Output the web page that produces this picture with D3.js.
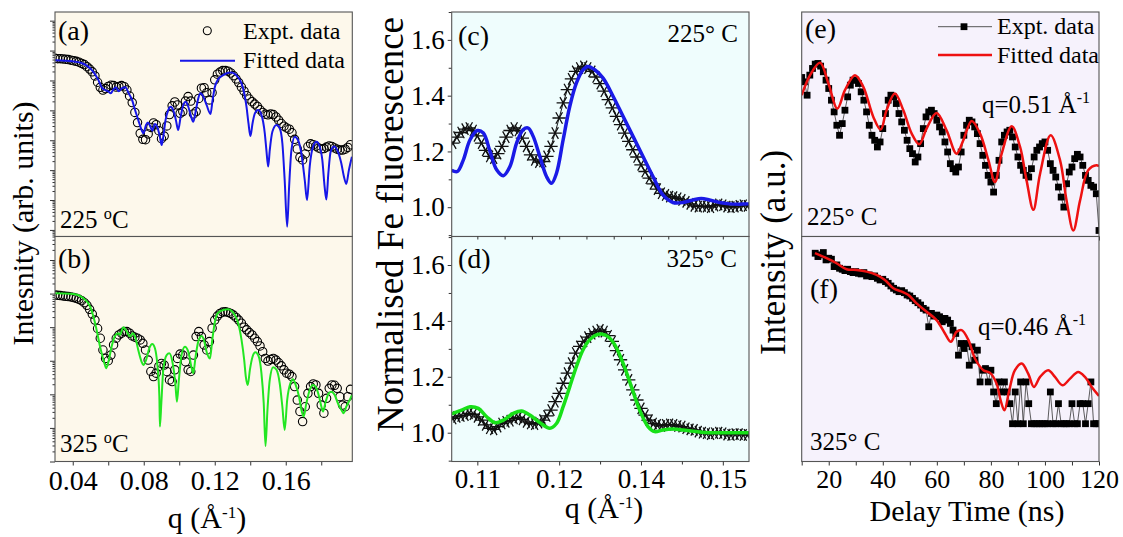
<!DOCTYPE html>
<html>
<head>
<meta charset="utf-8">
<script src="https://cdn.jsdelivr.net/npm/d3@7"></script>
<style>
  body { margin: 0; background: #fff; }
  text { font-family: "Liberation Serif", "Times New Roman", serif; fill: #000; }
</style>
</head>
<body>
<script>
// ---- data: reflectivity (a, b), log10 intensity in arb. units ----
const qSaxs = [0.0300,0.0315,0.0330,0.0345,0.0360,0.0375,0.0390,0.0405,0.0420,0.0435,0.0450,0.0465,0.0480,0.0495,0.0510,0.0525,0.0540,0.0555,0.0570,0.0585,0.0600,0.0615,0.0630,0.0645,0.0660,0.0675,0.0690,0.0705,0.0720,0.0735,0.0750,0.0765,0.0780,0.0795,0.0810,0.0825,0.0840,0.0855,0.0870,0.0885,0.0900,0.0915,0.0930,0.0945,0.0960,0.0975,0.0990,0.1005,0.1020,0.1035,0.1050,0.1065,0.1080,0.1095,0.1110,0.1125,0.1140,0.1155,0.1170,0.1185,0.1200,0.1215,0.1230,0.1245,0.1260,0.1275,0.1290,0.1305,0.1320,0.1335,0.1350,0.1365,0.1380,0.1395,0.1410,0.1425,0.1440,0.1455,0.1470,0.1485,0.1500,0.1515,0.1530,0.1545,0.1560,0.1575,0.1590,0.1605,0.1620,0.1635,0.1650,0.1665,0.1680,0.1695,0.1710,0.1725,0.1740,0.1755,0.1770,0.1785,0.1800,0.1815,0.1830,0.1845,0.1860,0.1875,0.1890,0.1905,0.1920,0.1935,0.1950,0.1965];
const aExpt = [-1.26,-1.27,-1.27,-1.28,-1.29,-1.30,-1.32,-1.34,-1.36,-1.39,-1.43,-1.47,-1.54,-1.62,-1.71,-1.85,-2.06,-2.23,-2.32,-2.27,-2.20,-2.16,-2.17,-2.22,-2.20,-2.17,-2.21,-2.32,-2.52,-2.74,-3.07,-3.41,-3.77,-3.97,-3.98,-3.79,-3.57,-3.42,-3.48,-3.68,-3.95,-3.86,-3.52,-3.14,-2.85,-2.72,-2.82,-3.10,-3.04,-2.69,-2.54,-2.69,-3.12,-3.04,-2.60,-2.26,-2.24,-2.41,-2.65,-2.41,-1.98,-1.79,-1.72,-1.67,-1.67,-1.69,-1.75,-1.84,-1.95,-2.07,-2.22,-2.36,-2.51,-2.62,-2.71,-2.79,-2.87,-2.98,-3.07,-3.13,-3.15,-3.12,-3.14,-3.22,-3.33,-3.44,-3.53,-3.59,-3.63,-3.75,-3.97,-4.29,-4.57,-4.66,-4.46,-4.21,-4.12,-4.15,-4.20,-4.26,-4.29,-4.28,-4.23,-4.19,-4.21,-4.26,-4.30,-4.33,-4.33,-4.30,-4.24,-4.15];
const bExpt = [-1.04,-1.05,-1.06,-1.07,-1.08,-1.09,-1.10,-1.12,-1.14,-1.17,-1.21,-1.27,-1.35,-1.47,-1.61,-1.79,-2.04,-2.33,-2.68,-2.93,-3.00,-2.83,-2.53,-2.33,-2.23,-2.18,-2.13,-2.13,-2.18,-2.26,-2.30,-2.33,-2.38,-2.48,-2.68,-2.98,-3.32,-3.47,-3.37,-3.17,-3.08,-3.13,-3.32,-3.57,-3.62,-3.27,-2.93,-2.80,-2.83,-3.03,-3.27,-3.32,-2.83,-2.28,-2.13,-2.28,-2.53,-2.68,-2.43,-2.03,-1.79,-1.67,-1.59,-1.55,-1.54,-1.56,-1.59,-1.64,-1.71,-1.79,-1.88,-2.00,-2.08,-2.16,-2.23,-2.33,-2.43,-2.56,-2.73,-2.93,-3.01,-2.96,-2.93,-2.98,-3.06,-3.15,-3.27,-3.37,-3.40,-3.47,-3.77,-4.17,-4.51,-4.81,-4.37,-3.97,-3.77,-3.69,-3.72,-3.97,-4.32,-4.56,-4.12,-3.82,-3.72,-3.73,-3.82,-4.07,-4.32,-4.37,-4.07,-3.85];
const aFitQ = [0.0297,0.0366,0.0441,0.0483,0.0516,0.0544,0.0563,0.0582,0.0601,0.0614,0.0629,0.0644,0.0659,0.0678,0.0696,0.0715,0.0734,0.0751,0.0769,0.0788,0.0798,0.0813,0.0824,0.0839,0.0848,0.0863,0.0876,0.0891,0.0901,0.0910,0.0923,0.0938,0.0951,0.0966,0.0981,0.0994,0.1008,0.1023,0.1036,0.1051,0.1064,0.1079,0.1094,0.1107,0.1120,0.1135,0.1154,0.1176,0.1188,0.1201,0.1219,0.1248,0.1276,0.1294,0.1313,0.1332,0.1351,0.1366,0.1379,0.1390,0.1401,0.1413,0.1426,0.1444,0.1463,0.1482,0.1491,0.1501,0.1510,0.1525,0.1548,0.1566,0.1581,0.1594,0.1608,0.1619,0.1632,0.1651,0.1669,0.1688,0.1707,0.1720,0.1735,0.1754,0.1773,0.1791,0.1806,0.1819,0.1829,0.1840,0.1853,0.1872,0.1894,0.1913,0.1928,0.1941,0.1956,0.1973];
const aFit = [-1.32,-1.34,-1.40,-1.52,-1.71,-1.98,-2.23,-2.32,-2.37,-2.43,-2.30,-2.23,-2.36,-2.26,-2.23,-2.43,-2.65,-2.99,-3.32,-3.66,-3.77,-3.49,-3.41,-3.57,-3.68,-3.46,-3.55,-3.88,-4.16,-3.88,-3.32,-2.99,-2.88,-2.99,-3.32,-3.66,-3.21,-2.82,-2.71,-2.88,-3.15,-3.38,-2.99,-2.60,-2.43,-2.54,-2.82,-3.12,-2.65,-2.21,-1.96,-1.82,-1.74,-1.73,-1.78,-1.90,-2.10,-2.43,-2.88,-3.43,-3.86,-3.43,-3.10,-2.99,-3.15,-3.77,-4.33,-4.88,-4.33,-3.71,-3.49,-3.60,-4.10,-5.33,-6.89,-5.55,-4.33,-3.88,-3.99,-4.44,-5.33,-6.00,-4.88,-4.21,-4.05,-4.21,-4.66,-5.55,-5.98,-5.11,-4.38,-4.21,-4.38,-4.77,-5.22,-5.46,-4.99,-4.55];
const bFitQ = [0.0297,0.0404,0.0460,0.0498,0.0526,0.0554,0.0576,0.0588,0.0601,0.0619,0.0638,0.0657,0.0666,0.0685,0.0704,0.0723,0.0738,0.0751,0.0769,0.0788,0.0798,0.0813,0.0831,0.0848,0.0863,0.0876,0.0888,0.0891,0.0899,0.0910,0.0929,0.0944,0.0963,0.0978,0.0987,0.0998,0.1013,0.1032,0.1051,0.1068,0.1079,0.1092,0.1107,0.1126,0.1139,0.1154,0.1173,0.1186,0.1201,0.1219,0.1248,0.1276,0.1294,0.1313,0.1332,0.1351,0.1366,0.1375,0.1386,0.1398,0.1413,0.1429,0.1448,0.1463,0.1476,0.1486,0.1497,0.1510,0.1529,0.1548,0.1566,0.1581,0.1594,0.1608,0.1626,0.1641,0.1656,0.1675,0.1688,0.1701,0.1716,0.1735,0.1754,0.1773,0.1788,0.1801,0.1810,0.1825,0.1842,0.1857,0.1876,0.1894,0.1913,0.1926,0.1941,0.1960,0.1973];
const bFit = [-0.99,-1.01,-1.14,-1.39,-1.88,-2.58,-3.03,-3.22,-3.03,-2.58,-2.26,-2.18,-2.23,-2.00,-2.13,-2.28,-2.18,-2.28,-2.68,-3.03,-3.13,-2.98,-2.63,-2.50,-2.63,-3.08,-4.07,-4.96,-4.27,-3.27,-2.83,-2.78,-3.08,-3.67,-4.22,-3.57,-2.83,-2.58,-2.73,-3.17,-3.37,-2.88,-2.43,-2.26,-2.38,-2.73,-2.93,-2.38,-1.84,-1.57,-1.49,-1.47,-1.51,-1.64,-1.88,-2.38,-2.98,-3.47,-3.72,-3.27,-2.88,-2.75,-2.88,-3.37,-4.27,-5.54,-4.46,-3.57,-3.19,-3.27,-3.67,-4.37,-5.06,-4.17,-3.67,-3.55,-3.72,-4.07,-4.46,-4.66,-4.27,-3.87,-3.72,-3.82,-4.07,-4.37,-4.51,-4.22,-3.97,-3.92,-4.02,-4.27,-4.46,-4.56,-4.37,-4.17,-4.02];
const saxsTicks = [0.04, 0.08, 0.12, 0.16];
const saxsLabels = ['0.04', '0.08', '0.12', '0.16'];
const saxsMinor = [0.06, 0.10, 0.14, 0.18];

// ---- data: Fe fluorescence (c, d) ----
const qFluo = [0.10050,0.10125,0.10200,0.10275,0.10350,0.10425,0.10500,0.10575,0.10650,0.10725,0.10800,0.10875,0.10950,0.11025,0.11100,0.11175,0.11250,0.11325,0.11400,0.11475,0.11550,0.11625,0.11700,0.11775,0.11850,0.11925,0.12000,0.12075,0.12150,0.12225,0.12300,0.12375,0.12450,0.12525,0.12600,0.12675,0.12750,0.12825,0.12900,0.12975,0.13050,0.13125,0.13200,0.13275,0.13350,0.13425,0.13500,0.13575,0.13650,0.13725,0.13800,0.13875,0.13950,0.14025,0.14100,0.14175,0.14250,0.14325,0.14400,0.14475,0.14550,0.14625,0.14700,0.14775,0.14850,0.14925,0.15000,0.15075,0.15150,0.15225,0.15300,0.15375,0.15450];
const cExpt = [1.230,1.251,1.268,1.280,1.284,1.275,1.256,1.230,1.204,1.182,1.176,1.192,1.218,1.251,1.275,1.284,1.275,1.248,1.218,1.188,1.170,1.162,1.164,1.182,1.218,1.266,1.320,1.374,1.422,1.460,1.487,1.499,1.505,1.499,1.487,1.467,1.443,1.416,1.386,1.356,1.326,1.296,1.266,1.236,1.206,1.180,1.152,1.128,1.104,1.084,1.065,1.050,1.044,1.038,1.036,1.032,1.026,1.019,1.012,1.005,1.002,1.005,1.002,1.000,1.006,1.010,1.007,1.002,1.000,1.002,1.005,1.007,1.005];
const dExpt = [1.051,1.057,1.060,1.063,1.069,1.066,1.057,1.045,1.028,1.016,1.012,1.022,1.033,1.039,1.043,1.051,1.055,1.048,1.039,1.033,1.031,1.036,1.045,1.060,1.081,1.111,1.141,1.177,1.213,1.249,1.285,1.309,1.327,1.342,1.354,1.362,1.368,1.362,1.347,1.327,1.294,1.261,1.225,1.189,1.153,1.117,1.087,1.063,1.045,1.033,1.028,1.024,1.028,1.030,1.028,1.024,1.022,1.016,1.012,1.010,1.004,1.000,0.998,0.995,0.998,1.000,0.998,0.993,0.992,0.995,0.995,0.992,0.992];
const cFitQ = [0.10030,0.10134,0.10244,0.10366,0.10500,0.10610,0.10732,0.10854,0.10976,0.11098,0.11220,0.11341,0.11433,0.11524,0.11646,0.11768,0.11860,0.11951,0.12073,0.12195,0.12317,0.12439,0.12530,0.12652,0.12805,0.12988,0.13171,0.13354,0.13537,0.13720,0.13902,0.14085,0.14268,0.14451,0.14604,0.14756,0.14939,0.15122,0.15305,0.15476];
const cFit = [1.132,1.128,1.170,1.242,1.275,1.266,1.200,1.134,1.113,1.146,1.230,1.278,1.284,1.254,1.182,1.110,1.086,1.122,1.242,1.362,1.446,1.493,1.505,1.493,1.463,1.398,1.326,1.254,1.182,1.110,1.044,1.017,1.017,1.026,1.031,1.026,1.017,1.012,1.011,1.012];
const dFitQ = [0.10030,0.10213,0.10366,0.10518,0.10671,0.10823,0.10976,0.11159,0.11311,0.11463,0.11646,0.11829,0.11951,0.12073,0.12195,0.12317,0.12439,0.12561,0.12683,0.12774,0.12896,0.13018,0.13171,0.13323,0.13476,0.13628,0.13750,0.13902,0.14085,0.14268,0.14512,0.14756,0.15122,0.15476];
const dFit = [1.067,1.081,1.093,1.087,1.057,1.036,1.045,1.069,1.078,1.063,1.036,1.016,1.033,1.093,1.165,1.237,1.297,1.333,1.350,1.353,1.344,1.315,1.249,1.165,1.081,1.022,1.004,1.010,1.013,1.010,1.004,1.000,1.000,1.000];
const fluoTicks = [0.105, 0.12, 0.135, 0.15];
const fluoLabels = ['0.11', '0.12', '0.14', '0.15'];
const fluoYTicks = [1.0, 1.2, 1.4, 1.6];

// ---- data: XPCS delay time (e, f), intensity in a.u. ----
const eTime = [10,11,12,13,14,15,16,17,18,19,20,21,22,23,24,25,26,27,28,29,30,31,32,33,34,35,36,37,38,39,40,41,42,43,44,45,46,47,48,49,50,51,52,53,54,55,56,57,58,59,60,61,62,63,64,65,66,67,68,69,70,71,72,73,74,75,76,77,78,79,80,81,82,83,84,85,86,87,88,89,90,91,92,93,94,95,96,97,98,99,100,101,102,103,104,105,106,107,108,109,110,111,112,113,114,115,116,117,118,119,120];
const eExpt = [4.76,4.63,4.23,4.83,5.03,5.16,5.18,5.10,4.93,4.68,4.43,4.08,3.73,3.33,3.03,3.38,3.78,4.18,4.53,4.68,4.68,4.58,4.33,4.08,3.73,3.33,3.03,2.88,2.68,2.83,3.23,3.68,4.08,4.23,4.18,3.98,3.68,3.43,3.18,2.88,2.63,2.48,2.23,2.38,2.78,3.23,3.58,3.73,3.78,3.68,3.48,3.28,3.13,2.83,2.53,2.18,2.03,1.93,2.08,2.53,3.03,3.33,3.48,3.43,3.28,3.08,2.78,2.43,2.13,1.83,1.63,1.33,1.83,2.28,2.83,3.03,3.13,3.18,2.98,2.68,2.38,2.13,1.98,1.83,1.78,2.03,2.38,2.58,2.68,2.78,2.83,2.58,2.18,1.98,1.78,1.48,1.18,0.88,1.58,1.93,2.08,2.33,2.46,2.38,2.13,1.83,1.68,1.53,1.48,1.28,0.18];
const fTime = [15,16,17,18,19,20,21,22,23,24,25,26,27,28,29,30,31,32,33,34,35,36,37,38,39,40,41,42,43,44,45,46,47,48,49,50,51,52,53,54,55,56,57,58,59,60,61,62,63,64,65,66,67,68,69,70,71,72,73,74,75,76,77,78,79,80,81,82,83,84,85,86,87,88,89,90,91,92,93,94,95,96,97,98,99,100,101,102,103,104,105,106,107,108,109,110,111,112,113,114,115,116,117,118,119,120];
const fExpt = [6.23,6.13,6.18,6.25,6.03,6.08,6.05,5.83,5.88,5.78,5.75,5.71,5.75,5.68,5.65,5.68,5.63,5.61,5.65,5.55,5.58,5.53,5.55,5.48,5.43,5.45,5.38,5.33,5.25,5.18,5.13,5.08,5.11,5.05,4.98,4.95,4.88,4.81,4.75,4.68,4.58,4.53,4.03,4.43,4.35,4.38,4.33,4.18,4.28,4.23,4.13,3.93,3.83,3.18,3.53,3.38,3.53,2.88,3.43,3.03,3.33,2.38,2.73,2.78,2.38,2.73,2.08,1.73,2.38,2.08,2.38,2.08,1.73,1.13,2.08,1.13,2.38,1.13,2.38,1.73,1.13,1.13,1.13,1.13,1.13,1.13,1.13,2.08,1.13,1.13,1.73,1.13,1.13,1.13,1.13,1.73,1.13,1.13,1.73,1.73,1.13,1.73,2.38,1.13,1.13,1.13];
const eFitT = [10.0,13.1,16.8,19.9,23.2,26.0,29.7,32.8,36.5,39.2,41.4,44.5,47.6,50.7,53.5,56.2,59.9,63.6,67.3,69.8,72.9,76.0,79.1,81.5,84.0,87.7,90.8,93.2,95.7,98.2,102.1,105.6,108.0,110.5,113.0,116.0,119.1,120.0];
const eFit = [4.23,4.83,5.20,4.58,3.83,4.38,4.83,4.48,3.58,3.20,3.78,4.28,3.78,3.08,2.76,3.23,3.70,3.18,2.48,2.88,3.46,3.08,2.28,1.63,2.48,3.30,2.68,1.68,0.80,1.88,3.03,2.28,1.08,0.18,1.08,1.98,2.13,2.10];
const fFitT = [14.9,19.2,22.9,26.6,30.3,34.0,37.7,40.8,43.9,47.0,49.5,52.5,56.2,59.9,63.0,65.2,67.3,69.2,71.7,74.1,77.2,79.7,82.1,83.6,85.0,86.8,88.9,91.4,93.8,95.9,98.2,101.2,103.7,106.5,109.3,112.3,114.8,117.3,120.0];
const fFit = [6.23,6.08,5.93,5.75,5.73,5.68,5.58,5.43,5.18,5.08,4.98,4.73,4.48,4.23,3.83,3.58,3.88,3.93,3.63,3.08,2.73,2.65,2.33,1.83,1.53,2.13,2.73,2.93,2.63,2.23,2.53,2.73,2.53,2.28,2.48,2.68,2.53,2.23,1.96];
const timeTicks = [20, 40, 60, 80, 100, 120];
const timeMinor = [10, 30, 50, 70, 90, 110];

// ---- layout ----
const SERIF = '"Liberation Serif", "Times New Roman", serif';
const colL = [55, 352.3], colM = [451.7, 749], colR = [801.7, 1099];
const rowT = [12, 236.5], rowB = [236.5, 461.5];

const svg = d3.select('body').append('svg')
    .attr('width', 1123)
    .attr('height', 537);

const zip = (xs, ys) => xs.slice(0, ys.length).map((x, i) => [x, ys[i]]);

function panel(id, col, row, bg) {
    svg.append('rect')
        .attr('x', col[0]).attr('y', row[0])
        .attr('width', col[1] - col[0]).attr('height', row[1] - row[0])
        .attr('fill', bg);
    svg.append('clipPath').attr('id', 'clip-' + id)
        .append('rect')
        .attr('x', col[0]).attr('y', row[0])
        .attr('width', col[1] - col[0]).attr('height', row[1] - row[0]);
    return svg.append('g').attr('clip-path', `url(#clip-${id})`);
}

function frame(col, row) {
    svg.append('rect')
        .attr('x', col[0]).attr('y', row[0])
        .attr('width', col[1] - col[0]).attr('height', row[1] - row[0])
        .attr('fill', 'none')
        .attr('stroke', '#555')
        .attr('stroke-width', 1.1);
}

function styleAxis(g, size) {
    g.select('.domain').remove();
    g.attr('font-family', SERIF).attr('font-size', size);
    g.selectAll('line').attr('stroke', '#333');
    g.selectAll('text').attr('fill', '#000');
}

// scales
const xSaxs = d3.scaleLinear().domain([0.0300, 0.1975]).range(colL);
const yA = d3.scaleLog().domain([10 ** -7.22, 10 ** 0.29]).range([rowT[1], rowT[0]]);
const yB = d3.scaleLog().domain([10 ** -6.0, 10 ** 0.70]).range([rowB[1], rowB[0]]);
const xFluo = d3.scaleLinear().domain([0.1003, 0.1548]).range(colM);
const yC = d3.scaleLinear().domain([0.895, 1.70]).range([rowT[1], rowT[0]]);
const yD = d3.scaleLinear().domain([0.897, 1.702]).range([rowB[1], rowB[0]]);
const xTime = d3.scaleLinear().domain([10, 120]).range(colR);
const yE = d3.scaleLinear().domain([0, 6.72]).range([rowT[1], rowT[0]]);
const yF = d3.scaleLinear().domain([0, 6.73]).range([rowB[1], rowB[0]]);

// ---- (a), (b) reflectivity ----
function saxsPanel(id, row, yScale, expt, fitQ, fit, color) {
    const g = panel(id, colL, row, '#fdf8eb');
    g.append('g').selectAll('circle')
        .data(zip(qSaxs, expt))
        .join('circle')
        .attr('cx', (d) => xSaxs(d[0]))
        .attr('cy', (d) => yScale(10 ** d[1]))
        .attr('r', 4.2)
        .attr('fill', 'none')
        .attr('stroke', '#000')
        .attr('stroke-width', 1.1);
    const line = d3.line()
        .x((d) => xSaxs(d[0]))
        .y((d) => yScale(10 ** d[1]))
        .curve(d3.curveMonotoneX);
    g.append('path')
        .datum(zip(fitQ, fit))
        .attr('d', line)
        .attr('fill', 'none')
        .attr('stroke', color)
        .attr('stroke-width', 2);

    // log ticks on the left, no labels
    const ticks = yScale.ticks();
    const major = ticks.filter((t) => Math.abs(Math.log10(t) - Math.round(Math.log10(t))) < 1e-6);
    const minor = ticks.filter((t) => !major.includes(t));
    svg.append('g').attr('transform', `translate(${colL[0]},0)`)
        .call(d3.axisLeft(yScale).tickValues(major).tickFormat('').tickSize(5))
        .call((s) => styleAxis(s, 10));
    svg.append('g').attr('transform', `translate(${colL[0]},0)`)
        .call(d3.axisLeft(yScale).tickValues(minor).tickFormat('').tickSize(2.5))
        .call((s) => styleAxis(s, 10));
    svg.append('g').attr('transform', `translate(0,${row[1]})`)
        .call(d3.axisBottom(xSaxs).tickValues(saxsTicks.concat(saxsMinor)).tickFormat('').tickSize(4))
        .call((s) => styleAxis(s, 10));
    frame(colL, row);
}

saxsPanel('a', rowT, yA, aExpt, aFitQ, aFit, '#1616e8');
saxsPanel('b', rowB, yB, bExpt, bFitQ, bFit, '#22e622');

svg.append('g').attr('transform', `translate(0,${rowB[1]})`)
    .call(d3.axisBottom(xSaxs).tickValues(saxsTicks).tickFormat((d, i) => saxsLabels[i]).tickSize(0))
    .call((s) => {
        styleAxis(s, 28);
        s.selectAll('text').attr('y', 28.5).attr('dy', 0);
    });

// legend (a)
svg.append('circle').attr('cx', 207.3).attr('cy', 30.7).attr('r', 4)
    .attr('fill', 'none').attr('stroke', '#000').attr('stroke-width', 1.1);
svg.append('text').attr('x', 243).attr('y', 38.5).attr('font-size', 24).text('Expt. data');
svg.append('line').attr('x1', 180).attr('x2', 235).attr('y1', 60.7).attr('y2', 60.7)
    .attr('stroke', '#1616e8').attr('stroke-width', 2);
svg.append('text').attr('x', 243).attr('y', 68.3).attr('font-size', 24).text('Fitted data');

function tempLabel(x, y, value, size) {
    const t = svg.append('text').attr('x', x).attr('y', y).attr('font-size', size);
    t.append('tspan').text(value + ' ');
    t.append('tspan').attr('dy', -9).attr('font-size', size * 0.65).text('o');
    t.append('tspan').attr('dy', 9).text('C');
}

svg.append('text').attr('x', 58).attr('y', 40).attr('font-size', 28).text('(a)');
svg.append('text').attr('x', 58).attr('y', 268).attr('font-size', 28).text('(b)');
tempLabel(60, 228, '225', 25);
tempLabel(60, 452, '325', 25);

// ---- (c), (d) fluorescence ----
function fluoPanel(id, row, yScale, expt, fitQ, fit, color) {
    const g = panel(id, colM, row, '#effdfd');
    g.append('path')
        .datum(zip(qFluo, expt))
        .attr('d', d3.line().x((d) => xFluo(d[0])).y((d) => yScale(d[1])))
        .attr('fill', 'none')
        .attr('stroke', '#000')
        .attr('stroke-width', 0.9);
    g.append('g').selectAll('path')
        .data(zip(qFluo, expt))
        .join('path')
        .attr('d', d3.symbol(d3.symbolAsterisk, 125))
        .attr('transform', (d) => `translate(${xFluo(d[0])},${yScale(d[1])}) rotate(90)`)
        .attr('fill', 'none')
        .attr('stroke', '#111')
        .attr('stroke-width', 1.3);
    g.append('path')
        .datum(zip(fitQ, fit))
        .attr('d', d3.line().x((d) => xFluo(d[0])).y((d) => yScale(d[1])).curve(d3.curveCatmullRom.alpha(0.5)))
        .attr('fill', 'none')
        .attr('stroke', color)
        .attr('stroke-width', 3.5);

    svg.append('g').attr('transform', `translate(${colM[0]},0)`)
        .call(d3.axisLeft(yScale).tickValues(fluoYTicks).tickFormat(d3.format('.1f')).tickSize(4).tickPadding(3))
        .call((s) => styleAxis(s, 27));
    svg.append('g').attr('transform', `translate(${colM[0]},0)`)
        .call(d3.axisLeft(yScale).tickValues([0.9, 1.1, 1.3, 1.5, 1.7]).tickFormat('').tickSize(3))
        .call((s) => styleAxis(s, 10));
    frame(colM, row);
}

fluoPanel('c', rowT, yC, cExpt, cFitQ, cFit, '#1a1ae6');
fluoPanel('d', rowB, yD, dExpt, dFitQ, dFit, '#18e018');

svg.append('g').attr('transform', `translate(0,${rowT[1]})`)
    .call(d3.axisBottom(xFluo).tickValues([0.105, 0.11, 0.115, 0.12, 0.125, 0.13, 0.135, 0.14, 0.145, 0.15]).tickFormat('').tickSize(3))
    .call((s) => styleAxis(s, 10));
svg.append('g').attr('transform', `translate(0,${rowB[1]})`)
    .call(d3.axisBottom(xFluo).tickValues([0.1125, 0.1275, 0.1425]).tickFormat('').tickSize(3))
    .call((s) => styleAxis(s, 10));
svg.append('g').attr('transform', `translate(0,${rowB[1]})`)
    .call(d3.axisBottom(xFluo).tickValues(fluoTicks).tickFormat((d, i) => fluoLabels[i]).tickSize(4))
    .call((s) => {
        styleAxis(s, 27);
        s.selectAll('text').attr('y', 26.5).attr('dy', 0);
    });

svg.append('text').attr('x', 458).attr('y', 44.5).attr('font-size', 28).text('(c)');
svg.append('text').attr('x', 458).attr('y', 268).attr('font-size', 28).text('(d)');
svg.append('text').attr('x', 738).attr('y', 41.7).attr('font-size', 25).attr('text-anchor', 'end').text('225° C');
svg.append('text').attr('x', 737).attr('y', 267.3).attr('font-size', 25).attr('text-anchor', 'end').text('325° C');

// ---- (e), (f) delay time ----
function timePanel(id, row, yScale, times, expt, fitT, fit) {
    const g = panel(id, colR, row, '#f6f2fc');
    g.append('path')
        .datum(zip(times, expt))
        .attr('d', d3.line().x((d) => xTime(d[0])).y((d) => yScale(d[1])))
        .attr('fill', 'none')
        .attr('stroke', '#333')
        .attr('stroke-width', 0.8);
    g.append('g').selectAll('rect')
        .data(zip(times, expt))
        .join('rect')
        .attr('x', (d) => xTime(d[0]) - 3.4)
        .attr('y', (d) => yScale(d[1]) - 3.4)
        .attr('width', 6.8)
        .attr('height', 6.8)
        .attr('fill', '#000');
    g.append('path')
        .datum(zip(fitT, fit))
        .attr('d', d3.line().x((d) => xTime(d[0])).y((d) => yScale(d[1])).curve(d3.curveCatmullRom.alpha(0.5)))
        .attr('fill', 'none')
        .attr('stroke', '#ee1111')
        .attr('stroke-width', 2.5);
    svg.append('g').attr('transform', `translate(0,${row[1]})`)
        .call(d3.axisBottom(xTime).tickValues(timeTicks.concat(timeMinor)).tickFormat('').tickSize(4))
        .call((s) => styleAxis(s, 10));
    frame(colR, row);
}

timePanel('e', rowT, yE, eTime, eExpt, eFitT, eFit);
timePanel('f', rowB, yF, fTime, fExpt, fFitT, fFit);

svg.append('g').attr('transform', `translate(0,${rowB[1]})`)
    .call(d3.axisBottom(xTime).tickValues(timeTicks).tickFormat(d3.format('d')).tickSize(0))
    .call((s) => {
        styleAxis(s, 26);
        s.selectAll('text').attr('y', 26.5).attr('dy', 0);
    });

// legend (e)
svg.append('line').attr('x1', 938).attr('x2', 992).attr('y1', 26.7).attr('y2', 26.7)
    .attr('stroke', '#555').attr('stroke-width', 1);
svg.append('rect').attr('x', 960.6).attr('y', 23.3).attr('width', 6.8).attr('height', 6.8).attr('fill', '#000');
svg.append('text').attr('x', 997).attr('y', 33.5).attr('font-size', 24).text('Expt. data');
svg.append('line').attr('x1', 938).attr('x2', 992).attr('y1', 55).attr('y2', 55)
    .attr('stroke', '#ee1111').attr('stroke-width', 2.5);
svg.append('text').attr('x', 997).attr('y', 62.7).attr('font-size', 24).text('Fitted data');

function qLabel(x, y, value) {
    const t = svg.append('text').attr('x', x).attr('y', y).attr('font-size', 25);
    t.append('tspan').text('q=' + value + ' Å');
    t.append('tspan').attr('dy', -10).attr('font-size', 16).text('-1');
}

svg.append('text').attr('x', 805).attr('y', 38).attr('font-size', 28).text('(e)');
svg.append('text').attr('x', 810).attr('y', 298).attr('font-size', 28).text('(f)');
qLabel(982, 113, '0.51');
qLabel(978, 335, '0.46');
svg.append('text').attr('x', 807).attr('y', 225).attr('font-size', 25).text('225° C');
svg.append('text').attr('x', 810).attr('y', 450).attr('font-size', 25).text('325° C');

// ---- axis titles ----
function qTitle(x, y) {
    const t = svg.append('text').attr('x', x).attr('y', y).attr('font-size', 30).attr('text-anchor', 'middle');
    t.append('tspan').text('q (Å');
    t.append('tspan').attr('dy', -10).attr('font-size', 17).text('-1');
    t.append('tspan').attr('dy', 10).text(')');
}
qTitle(207, 528);
qTitle(604, 518);
svg.append('text').attr('x', 967).attr('y', 521).attr('font-size', 30)
    .attr('text-anchor', 'middle').text('Delay Time (ns)');

svg.append('text').attr('transform', 'translate(33,223.5) rotate(-90)')
    .attr('font-size', 30).attr('text-anchor', 'middle').text('Intesnity (arb. units)');
svg.append('text').attr('transform', 'translate(403,224.5) rotate(-90)')
    .attr('font-size', 37).attr('text-anchor', 'middle').text('Normalised Fe fluorescence');
svg.append('text').attr('transform', 'translate(785,252.5) rotate(-90)')
    .attr('font-size', 35).attr('text-anchor', 'middle').text('Intensity (a.u.)');
</script>
</body>
</html>
